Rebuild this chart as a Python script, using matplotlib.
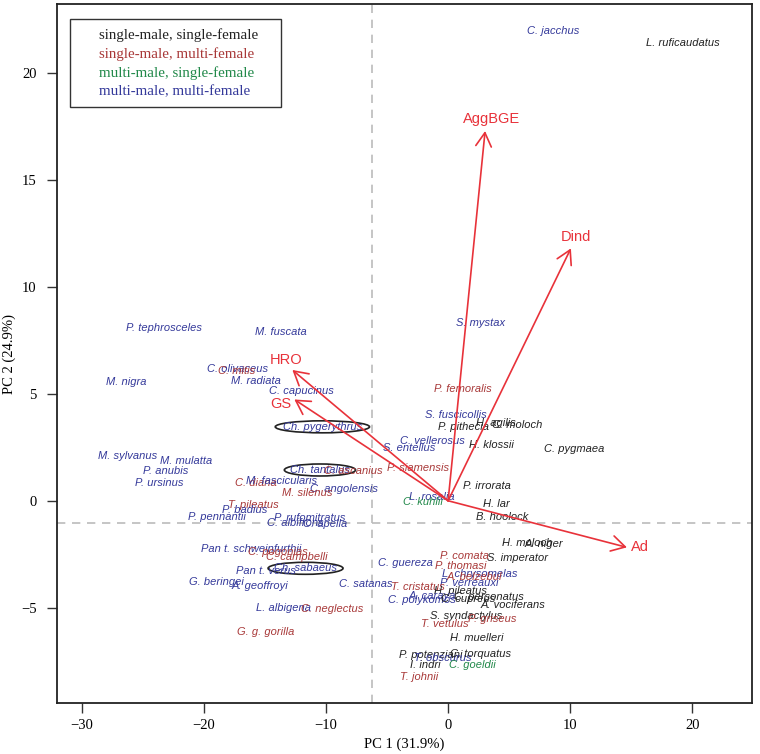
import matplotlib
matplotlib.use("Agg")
import matplotlib.pyplot as plt
from matplotlib.patches import Ellipse, Rectangle

# species scores on PC1 / PC2 and mating-system group
species = [
    "C. jacchus", "L. ruficaudatus", "P. tephrosceles", "M. fuscata", "S. mystax",
    "C. olivaceus", "C. mitis", "M. nigra", "M. radiata", "C. capucinus",
    "P. femoralis", "S. fuscicollis", "P. pithecia", "H. agilis", "C. moloch",
    "Ch. pygerythrus", "C. vellerosus", "S. entellus", "H. klossii", "C. pygmaea",
    "M. sylvanus", "M. mulatta", "P. anubis", "P. ursinus", "Ch. tantalus",
    "C. ascanius", "C. diana", "M. fascicularis", "C. angolensis", "M. silenus",
    "P. siamensis", "P. irrorata", "L. rosalia", "C. kuhlii", "H. lar",
    "B. hoolock", "T. pileatus", "P. badius", "P. pennantii", "P. rufomitratus",
    "C. albifrons", "C. apella", "H. moloch", "A. niger", "Pan t. schweinfurthii",
    "C. pogonias", "C. campbelli", "P. comata", "S. imperator", "C. guereza",
    "P. thomasi", "Ch. sabaeus", "Pan t. verus", "L. chrysomelas", "A. belzebul",
    "G. beringei", "A. geoffroyi", "C. satanas", "P. verreauxi", "T. cristatus",
    "H. pileatus", "C. polykomos", "A. caraya", "C. cupreus", "C. personatus",
    "A. vociferans", "L. albigena", "C. neglectus", "S. syndactylus", "P. griseus",
    "T. vetulus", "G. g. gorilla", "H. muelleri", "P. potenziani", "T. obscurus",
    "C. torquatus", "I. indri", "C. goeldii", "T. johnii",
]
pc1 = [
    8.6, 19.2, -23.26, -13.73, 2.69,
    -17.25, -17.3, -26.4, -15.71, -11.99,
    1.23, 0.66, 1.3, 3.92, 5.63,
    -10.3, -1.25, -3.22, 3.55, 10.37,
    -26.23, -21.49, -23.17, -23.7, -10.5,
    -7.76, -15.74, -13.65, -8.55, -11.53,
    -2.46, 3.17, -1.3, -2.07, 3.93,
    4.41, -15.96, -16.66, -18.96, -11.35,
    -12.54, -10.08, 6.45, 7.88, -16.15,
    -13.98, -12.4, 1.33, 5.71, -3.52,
    1.01, -11.68, -14.9, 2.56, 2.15,
    -19.0, -15.4, -6.76, 1.7, -2.5,
    0.98, -2.16, -1.34, 1.67, 3.38,
    5.34, -13.48, -9.52, 1.49, 3.61,
    -0.27, -14.94, 2.35, -1.39, -0.45,
    2.65, -1.89, 1.98, -2.36,
]
pc2 = [
    22.0, 21.43, 8.07, 7.89, 8.33,
    6.15, 6.08, 5.57, 5.59, 5.15,
    5.21, 4.01, 3.43, 3.62, 3.54,
    3.46, 2.81, 2.48, 2.59, 2.42,
    2.09, 1.84, 1.39, 0.84, 1.44,
    1.39, 0.84, 0.91, 0.56, 0.35,
    1.52, 0.70, 0.16, -0.05, -0.17,
    -0.78, -0.22, -0.44, -0.75, -0.82,
    -1.03, -1.09, -1.99, -2.04, -2.26,
    -2.39, -2.62, -2.59, -2.68, -2.93,
    -3.06, -3.16, -3.29, -3.44, -3.56,
    -3.79, -3.98, -3.9, -3.84, -4.05,
    -4.21, -4.62, -4.46, -4.6, -4.52,
    -4.88, -5.04, -5.07, -5.38, -5.54,
    -5.78, -6.16, -6.44, -7.22, -7.35,
    -7.17, -7.69, -7.69, -8.26,
]
# 0 single-male single-female, 1 single-male multi-female,
# 2 multi-male single-female, 3 multi-male multi-female
group = [
    3, 0, 3, 3, 3,
    3, 1, 3, 3, 3,
    1, 3, 0, 0, 0,
    3, 3, 3, 0, 0,
    3, 3, 3, 3, 3,
    1, 1, 3, 3, 1,
    1, 0, 3, 2, 0,
    0, 1, 3, 3, 3,
    3, 3, 0, 0, 3,
    1, 1, 1, 0, 3,
    1, 3, 3, 3, 1,
    3, 3, 3, 3, 1,
    0, 3, 3, 0, 0,
    0, 3, 1, 0, 1,
    1, 1, 0, 0, 3,
    0, 0, 2, 1,
]
circled = ["Ch. pygerythrus", "Ch. tantalus", "Ch. sabaeus"]

group_names = ["single-male, single-female", "single-male, multi-female",
               "multi-male, single-female", "multi-male, multi-female"]
group_colors = ["#222222", "#A83838", "#22894A", "#34399A"]

# variable loadings (arrow tips)
var_names = ["AggBGE", "Dind", "Ad", "HRO", "GS"]
var_pc1 = [3.03, 10.06, 14.65, -12.76, -12.6]
var_pc2 = [17.3, 11.81, -2.18, 6.12, 4.74]

mean_pc1 = -6.2
mean_pc2 = -1.06

pc1_label = "PC 1 (31.9%)"
pc2_label = "PC 2 (24.9%)"


def main():
    serif = "Liberation Serif"
    sans = "Liberation Sans"
    arrow_red = "#E8323A"

    fig = plt.figure(figsize=(7.6, 7.54), dpi=100)
    ax = fig.add_axes([0.0746, 0.068, 0.9149, 0.9263])
    ax.set_xlim(-32.07, 24.9)
    ax.set_ylim(-9.45, 23.23)

    ax.axvline(mean_pc1, color="#BBBBBB", lw=1.2, ls=(0, (5, 4)), zorder=1)
    ax.axhline(mean_pc2, color="#BBBBBB", lw=1.2, ls=(0, (5, 4)), zorder=1)

    # species names
    texts = {}
    for name, x, y, g in zip(species, pc1, pc2, group):
        t = ax.text(x, y, name, ha="center", va="center", fontsize=8,
                    family=sans, style="italic", color=group_colors[g],
                    zorder=3)
        texts[name] = t

    # loading arrows
    label_offsets = [(4.8, 8.9), (3.8, 7.9), (9.5, 0), (-4.5, 7.2), (-10, -3.4)]
    for name, x, y, off in zip(var_names, var_pc1, var_pc2, label_offsets):
        ax.annotate("", xy=(x, y), xytext=(0, 0),
                    arrowprops=dict(arrowstyle="->,head_length=0.7,head_width=0.4",
                                    color=arrow_red, lw=1.2, mutation_scale=14,
                                    shrinkA=0, shrinkB=0), zorder=4)
        ax.annotate(name, xy=(x, y), xytext=off, textcoords="offset points",
                    ha="center", va="center", fontsize=10.5, family=sans,
                    color=arrow_red, zorder=4)

    # ellipses round the circled species
    fig.canvas.draw()
    inv = ax.transData.inverted()
    for name in circled:
        bb = texts[name].get_window_extent()
        (x0, y0), (x1, y1) = inv.transform([[bb.x0, bb.y0], [bb.x1, bb.y1]])
        cx, cy = (x0 + x1) / 2, (y0 + y1) / 2
        w = (x1 - x0) * 1.19
        h = 12 / 21.37
        ax.add_patch(Ellipse((cx, cy), w, h, fill=False, ec="#222222",
                             lw=1.2, zorder=2))

    # legend box
    ax.add_patch(Rectangle((0.0191, 0.853), 0.3035, 0.126,
                           transform=ax.transAxes, fill=False,
                           ec="#333333", lw=1.0, zorder=5))
    for i, (lab, col) in enumerate(zip(group_names, group_colors)):
        ax.text(0.0613, 0.956 - i * 0.0271, lab, transform=ax.transAxes,
                ha="left", va="center", fontsize=10.8, family=serif,
                color=col, zorder=5)

    ax.set_xticks([-30, -20, -10, 0, 10, 20])
    ax.set_yticks([-5, 0, 5, 10, 15, 20])
    ax.tick_params(axis="both", direction="out", length=7.5, width=1.0,
                   labelsize=10.5, color="#333333")
    ax.tick_params(axis="x", pad=4)
    ax.tick_params(axis="y", pad=7)
    for lab in ax.get_xticklabels() + ax.get_yticklabels():
        lab.set_family(serif)
    for sp in ax.spines.values():
        sp.set_linewidth(1.3)
        sp.set_color("#222222")

    ax.set_xlabel(pc1_label, fontsize=10.5, family=serif)
    ax.set_ylabel(pc2_label, fontsize=10.5, family=serif)
    ax.xaxis.set_label_coords(0.5, -0.0505)
    ax.yaxis.set_label_coords(-0.059, 0.5)

    fig.savefig("out.png", dpi=100)


if __name__ == "__main__":
    main()
